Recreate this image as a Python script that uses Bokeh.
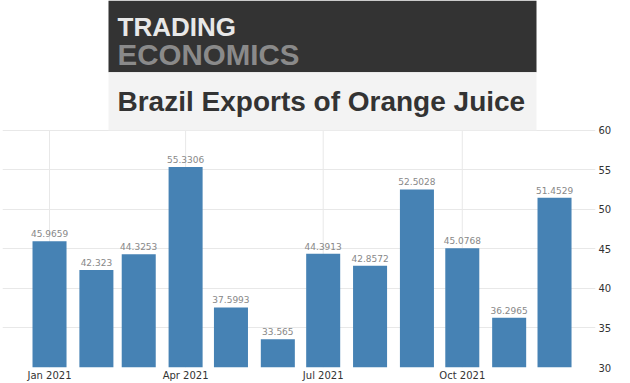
from datetime import datetime, timedelta
from bokeh.plotting import figure
from bokeh.models import (ColumnDataSource, Range1d, FixedTicker, DatetimeTickFormatter,
                          LabelSet)
from bokeh.core.properties import value
from bokeh.embed import file_html
from bokeh.resources import INLINE

# ---- data ----
months = ["2021-01-01", "2021-02-01", "2021-03-01", "2021-04-01", "2021-05-01", "2021-06-01",
          "2021-07-01", "2021-08-01", "2021-09-01", "2021-10-01", "2021-11-01", "2021-12-01"]
values = [45.9659, 42.323, 44.3253, 55.3306, 37.5993, 33.565,
          44.3913, 42.8572, 52.5028, 45.0768, 36.2965, 51.4529]
value_labels = ["45.9659", "42.323", "44.3253", "55.3306", "37.5993", "33.565",
                "44.3913", "42.8572", "52.5028", "45.0768", "36.2965", "51.4529"]
x_ticks = ["2021-01-01", "2021-04-01", "2021-07-01", "2021-10-01"]
y_ticks = [30, 35, 40, 45, 50, 55, 60]
brand_top = "TRADING"
brand_bottom = "ECONOMICS"
title_text = "Brazil Exports of Orange Juice"

dates = [datetime.strptime(m, "%Y-%m-%d") for m in months]
tick_dates = [datetime.strptime(t, "%Y-%m-%d") for t in x_ticks]
src = ColumnDataSource(dict(x=dates, top=values, label=value_labels))

jan1 = dates[0]
ymin, ymax = min(y_ticks), max(y_ticks)
# frame spans the full canvas height; the 30-60 scale occupies its lower part
y_top = ymax + 130 / (238 / (ymax - ymin))

p = figure(width=630, height=383, output_backend="svg", toolbar_location=None,
           x_axis_type="datetime", y_axis_location="right",
           x_range=Range1d(jan1 - timedelta(days=31.1), jan1 + timedelta(days=361.1)),
           y_range=Range1d(ymin, y_top),
           min_border_left=2, min_border_right=35, min_border_top=0, min_border_bottom=15)
p.outline_line_color = None
p.background_fill_color = "white"
p.xgrid.grid_line_color = None
p.ygrid.grid_line_color = "#e8e8e8"
p.ygrid.ticker = FixedTicker(ticks=y_ticks)

# vertical quarter grid lines limited to the value scale
p.segment(x0=tick_dates, x1=tick_dates, y0=[ymin] * len(tick_dates), y1=[ymax] * len(tick_dates),
          line_color="#e8e8e8", line_width=1, level="underlay")

bar_w = timedelta(days=22.5).total_seconds() * 1000
p.vbar(x="x", top="top", bottom=ymin, width=bar_w, source=src,
       fill_color="#4682B4", line_color=None)

p.add_layout(LabelSet(x="x", y="top", text="label", source=src,
                      text_align="center", text_baseline="bottom", y_offset=4,
                      text_font=value("DejaVu Sans"), text_font_size="9px",
                      text_color="#888888"))

epoch = datetime(1970, 1, 1)
p.xaxis.ticker = FixedTicker(ticks=[(d - epoch).total_seconds() * 1000 for d in tick_dates])
fmt = "%b %Y"
p.xaxis.formatter = DatetimeTickFormatter(years=fmt, months=fmt, days=fmt, hours=fmt,
                                          minutes=fmt, seconds=fmt, milliseconds=fmt,
                                          microseconds=fmt, minsec=fmt, hourmin=fmt)
p.yaxis.ticker = FixedTicker(ticks=y_ticks)

for ax in (p.xaxis, p.yaxis):
    ax.axis_line_color = None
    ax.major_tick_line_color = None
    ax.minor_tick_line_color = None
    ax.major_tick_out = 0
    ax.major_tick_in = 0
    ax.minor_tick_out = 0
    ax.minor_tick_in = 0
    ax.major_label_text_font = "DejaVu Sans"
    ax.major_label_text_font_size = "10px"
    ax.major_label_text_color = "#333333"
p.xaxis.major_label_standoff = 2
p.yaxis.major_label_standoff = 3

# ---- title banner (pixel-like helper ranges) ----
p.extra_x_ranges = {"px": Range1d(2, 595)}
p.extra_y_ranges = {"px": Range1d(368, 0)}
p.quad(left=[108], right=[536], top=[0], bottom=[72], x_range_name="px", y_range_name="px",
       fill_color="#333333", line_color=None)
p.quad(left=[108], right=[536], top=[72], bottom=[130], x_range_name="px", y_range_name="px",
       fill_color="#f3f3f3", line_color=None)
p.text(x=[117], y=[27], text=[brand_top], x_range_name="px", y_range_name="px",
       text_font=value("Liberation Sans"), text_font_style="bold", text_font_size="26px",
       text_color="#e8e8e8", text_baseline="alphabetic")
p.text(x=[117], y=[54], text=[brand_bottom], x_range_name="px", y_range_name="px",
       text_font=value("Liberation Sans"), text_font_style="bold", text_font_size="29.5px",
       text_color="#8a8a8a", text_baseline="alphabetic")
p.text(x=[117], y=[101], text=[title_text], x_range_name="px", y_range_name="px",
       text_font=value("Liberation Sans"), text_font_style="bold", text_font_size="28px",
       text_color="#333333", text_baseline="alphabetic")

open("out.html", "w").write(file_html(p, INLINE))
